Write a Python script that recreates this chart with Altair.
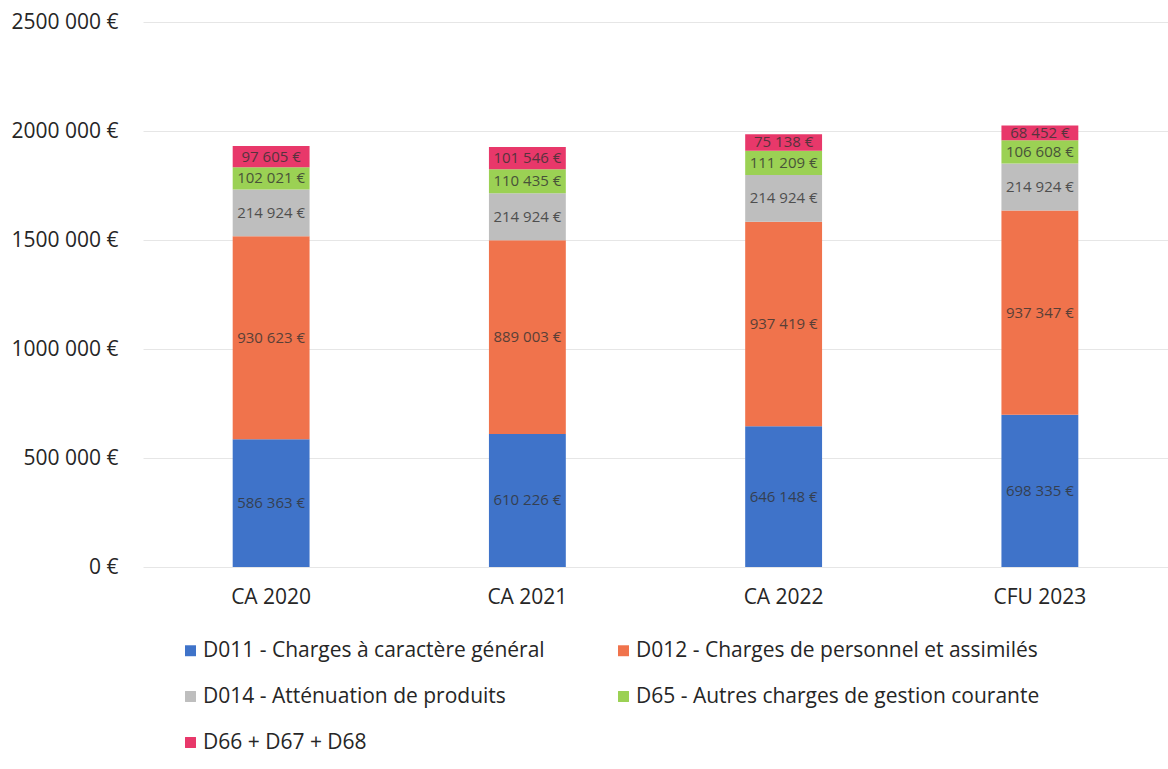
import altair as alt
import pandas as pd

categories = ["CA 2020", "CA 2021", "CA 2022", "CFU 2023"]
series = [
    "D011 - Charges à caractère général",
    "D012 - Charges de personnel et assimilés",
    "D014 - Atténuation de produits",
    "D65 - Autres charges de gestion courante",
    "D66 + D67 + D68",
]
d011 = [586363, 610226, 646148, 698335]
d012 = [930623, 889003, 937419, 937347]
d014 = [214924, 214924, 214924, 214924]
d65 = [102021, 110435, 111209, 106608]
d66 = [97605, 101546, 75138, 68452]
colors = ["#3F73C9", "#F0734C", "#BEBEBE", "#9BD154", "#E8386A"]

rows = []
for s_i, (s, vals) in enumerate(zip(series, [d011, d012, d014, d65, d66])):
    for c, v in zip(categories, vals):
        rows.append({"cat": c, "series": s, "value": v, "ord": s_i})
df = pd.DataFrame(rows)

FONT = "Open Sans"
FS = 21

base = alt.Chart(df).transform_stack(
    stack="value", groupby=["cat"], sort=[alt.SortField("ord", order="ascending")],
    as_=["y0", "y1"]
).transform_calculate(
    mid="(datum.y0 + datum.y1) / 2",
    label="floor(datum.value / 1000) + ' ' + format(datum.value % 1000, '03d') + ' €'",
)

xenc = alt.X("cat:N", sort=categories, title=None,
             scale=alt.Scale(paddingInner=0.7, paddingOuter=0.35),
             axis=alt.Axis(labelAngle=0, labelFontSize=FS, labelColor="#262626", labelFont=FONT,
                           domain=False, ticks=False, labelPadding=19))

bars = base.mark_bar().encode(
    x=xenc,
    y=alt.Y("y0:Q", title=None,
            scale=alt.Scale(domain=[0, 2500000], nice=False),
            axis=alt.Axis(values=[0, 500000, 1000000, 1500000, 2000000, 2500000],
                          labelExpr="datum.value == 0 ? '0 €' : floor(datum.value / 1000) + ' 000 €'",
                          labelFontSize=FS, labelColor="#262626", labelFont=FONT,
                          domain=False, ticks=False, labelPadding=25,
                          gridColor="#E6E6E6", gridWidth=1)),
    y2="y1:Q",
    color=alt.Color("series:N", sort=series,
                    scale=alt.Scale(domain=series, range=colors),
                    legend=alt.Legend(title=None, orient="none", legendX=37, legendY=618,
                                      direction="horizontal",
                                      columns=2, columnPadding=68, rowPadding=24,
                                      symbolType="square", symbolSize=120, symbolStrokeWidth=0,
                                      labelFontSize=FS, labelFont=FONT, labelColor="#262626",
                                      labelLimit=600, symbolOffset=0, labelOffset=2)),
)

text = base.mark_text(fontSize=15, font=FONT, color="#333333", opacity=0.8).encode(
    x=alt.X("cat:N", sort=categories),
    y=alt.Y("mid:Q"),
    text="label:N",
)

chart = alt.layer(bars, text).properties(
    width=1025, height=545,
    padding={"left": 143, "top": 22, "right": 0, "bottom": 202},
    autosize=alt.AutoSizeParams(type="none"),
).configure(background="white").configure_view(stroke=None)

chart.save("out.html", embed_options={"renderer": "svg", "actions": False})
